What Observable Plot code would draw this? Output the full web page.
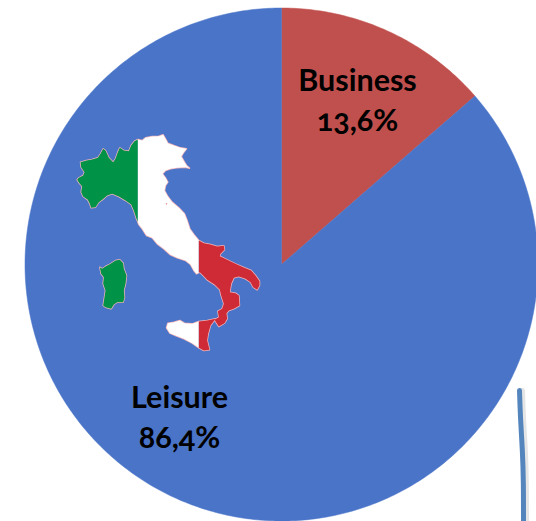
<!DOCTYPE html>
<html>
<head>
<meta charset="utf-8">
<script src="https://cdn.jsdelivr.net/npm/d3@7"></script>
<script src="https://cdn.jsdelivr.net/npm/@observablehq/plot@0.6"></script>
<style>
html,body{margin:0;padding:0;background:#fff;overflow:hidden}
svg{display:block}
</style>
</head>
<body>
<div id="chart"></div>
<script>
const categories = ["Business", "Leisure"];
const shares = [13.6, 86.4];
const sliceColors = ["#c0504d", "#4a74c8"];

// Map of Italy (map units)
const mainland = [[232,57],[245,60],[255,52],[275,48],[295,47],[308,43],[315,55],[322,68],[340,75],[360,82],[378,85],[368,98],[362,108],[372,125],[378,135],[387,143],[375,140],[350,142],[330,145],[315,150],[306,160],[315,172],[322,185],[315,195],[312,210],[322,228],[335,245],[355,262],[372,280],[380,300],[388,325],[400,342],[415,360],[430,368],[450,372],[470,378],[490,376],[492,388],[480,400],[478,407],[500,418],[525,430],[548,440],[572,450],[585,465],[597,482],[597,495],[590,508],[578,500],[570,485],[555,475],[535,468],[520,472],[512,490],[508,515],[525,518],[535,525],[537,555],[520,565],[505,570],[498,578],[500,595],[492,608],[475,618],[462,598],[475,590],[472,572],[485,565],[490,550],[482,525],[478,508],[462,492],[440,478],[428,465],[418,455],[408,460],[400,450],[390,432],[375,420],[350,412],[330,403],[310,385],[290,370],[275,352],[258,345],[245,325],[235,312],[228,295],[220,270],[212,252],[195,240],[175,228],[155,220],[140,225],[125,238],[115,245],[105,260],[92,262],[88,250],[82,238],[68,228],[62,215],[65,197],[58,190],[50,178],[55,172],[68,165],[72,155],[62,140],[60,125],[78,120],[95,117],[112,112],[120,100],[128,85],[135,90],[145,112],[158,125],[165,115],[172,95],[178,82],[190,90],[205,92],[212,75],[222,62]];
const sicily = [[318,622],[322,608],[340,605],[358,600],[372,608],[395,610],[415,603],[440,600],[465,595],[450,615],[443,640],[440,660],[447,688],[430,690],[415,682],[395,668],[370,655],[345,645],[328,638]];
const sardinia = [[118,440],[125,445],[135,438],[150,430],[165,420],[178,418],[188,428],[190,445],[198,465],[195,490],[190,510],[192,530],[188,545],[170,545],[160,552],[152,565],[135,560],[128,555],[132,530],[135,510],[128,490],[130,470],[122,460]];
const islet = [[318,250]];
const flagStripes = [
  {color:"#009246", from:0, to:232},
  {color:"#ffffff", from:232, to:415},
  {color:"#ce2b37", from:415, to:700}
];
// Curved rule at the lower right
const rule = [[519,390],[520,420],[522,450],[523,480],[523,525]];

// Layout
const W = 536, H = 521;
const cx = 281, cy = 264, R = 256.5;
const labelAt = [[357,98],[179,415]];
const mapX = x => 60 + x / 3, mapY = y => 120 + y / 3;

const arcs = d3.pie().sort(null).value(d => d)(shares);
const slices = arcs.flatMap((a, i) => {
  const n = Math.ceil((a.endAngle - a.startAngle) * 80);
  const pts = [{i, x: cx, y: cy}];
  for (let k = 0; k <= n; k++) {
    const t = a.startAngle + (a.endAngle - a.startAngle) * k / n;
    pts.push({i, x: cx + R * Math.sin(t), y: cy - R * Math.cos(t)});
  }
  pts.push({i, x: cx, y: cy});
  return pts;
});

function clipX(poly, lo, hi) {
  const cut = (p, keep, edge) => {
    const out = [];
    p.forEach((c, j) => {
      const q = p[(j + 1) % p.length];
      const ci = keep(c[0]), qi = keep(q[0]);
      if (ci) out.push(c);
      if (ci !== qi) out.push([edge, c[1] + (q[1] - c[1]) * (edge - c[0]) / (q[0] - c[0])]);
    });
    return out;
  };
  let r = cut(poly, x => x >= lo, lo);
  if (r.length) r = cut(r, x => x <= hi, hi);
  return r;
}

const shapes = [mainland, sicily, sardinia];
const outlineRows = shapes.flatMap((s, id) =>
  [...s, s[0]].map(([x, y]) => ({id, x: mapX(x), y: mapY(y)})));
const fillRows = [];
shapes.forEach((s, id) => flagStripes.forEach((st, si) => {
  const c = clipX(s, st.from, st.to);
  c.forEach(([x, y]) => fillRows.push({key: id + "-" + si, color: st.color, x: mapX(x), y: mapY(y)}));
}));

const labels = categories.map((c, i) => ({
  text: c + "\n" + String(shares[i]).replace(".", ",") + "%",
  x: labelAt[i][0], y: labelAt[i][1]
}));
const ruleRows = rule.map(([x, y]) => ({x, y}));
const shadowRows = rule.map(([x, y]) => ({x: x + 3, y}));

const chart = Plot.plot({
  width: W, height: H,
  margin: 0,
  style: {background: "transparent", overflow: "hidden"},
  x: {domain: [0, W], range: [0, W], axis: null},
  y: {domain: [0, H], range: [0, H], axis: null},
  marks: [
    Plot.line(slices, {x: "x", y: "y", z: "i", curve: "linear",
      stroke: d => sliceColors[d.i], strokeWidth: 0.5,
      fill: d => sliceColors[d.i]}),
    Plot.line(outlineRows, {
      x: "x", y: "y", z: "id", curve: "linear", stroke: "#f2b4b8", strokeWidth: 1.5,
      strokeLinejoin: "round"}),
    Plot.line(fillRows, {x: "x", y: "y", z: "key", curve: "linear", stroke: null,
      fill: "color"}),
    Plot.dot(islet, {x: d => mapX(d[0]), y: d => mapY(d[1]), r: 0.8, fill: "#e89098", stroke: null}),
    Plot.line(shadowRows, {x: "x", y: "y", curve: "basis", stroke: "#888", strokeWidth: 5,
      strokeOpacity: 0.22}),
    Plot.line(ruleRows, {x: "x", y: "y", curve: "basis", stroke: "#5485bd", strokeWidth: 5}),
    Plot.text(labels, {x: "x", y: "y", text: "text", fontSize: 30.5, lineHeight: 1.3,
      fontWeight: 700, fontFamily: "Lato", fill: "#000"})
  ]
});
chart.querySelectorAll("text").forEach(t => t.style.fontVariantNumeric = "oldstyle-nums");
document.getElementById("chart").appendChild(chart);
</script>
</body>
</html>
